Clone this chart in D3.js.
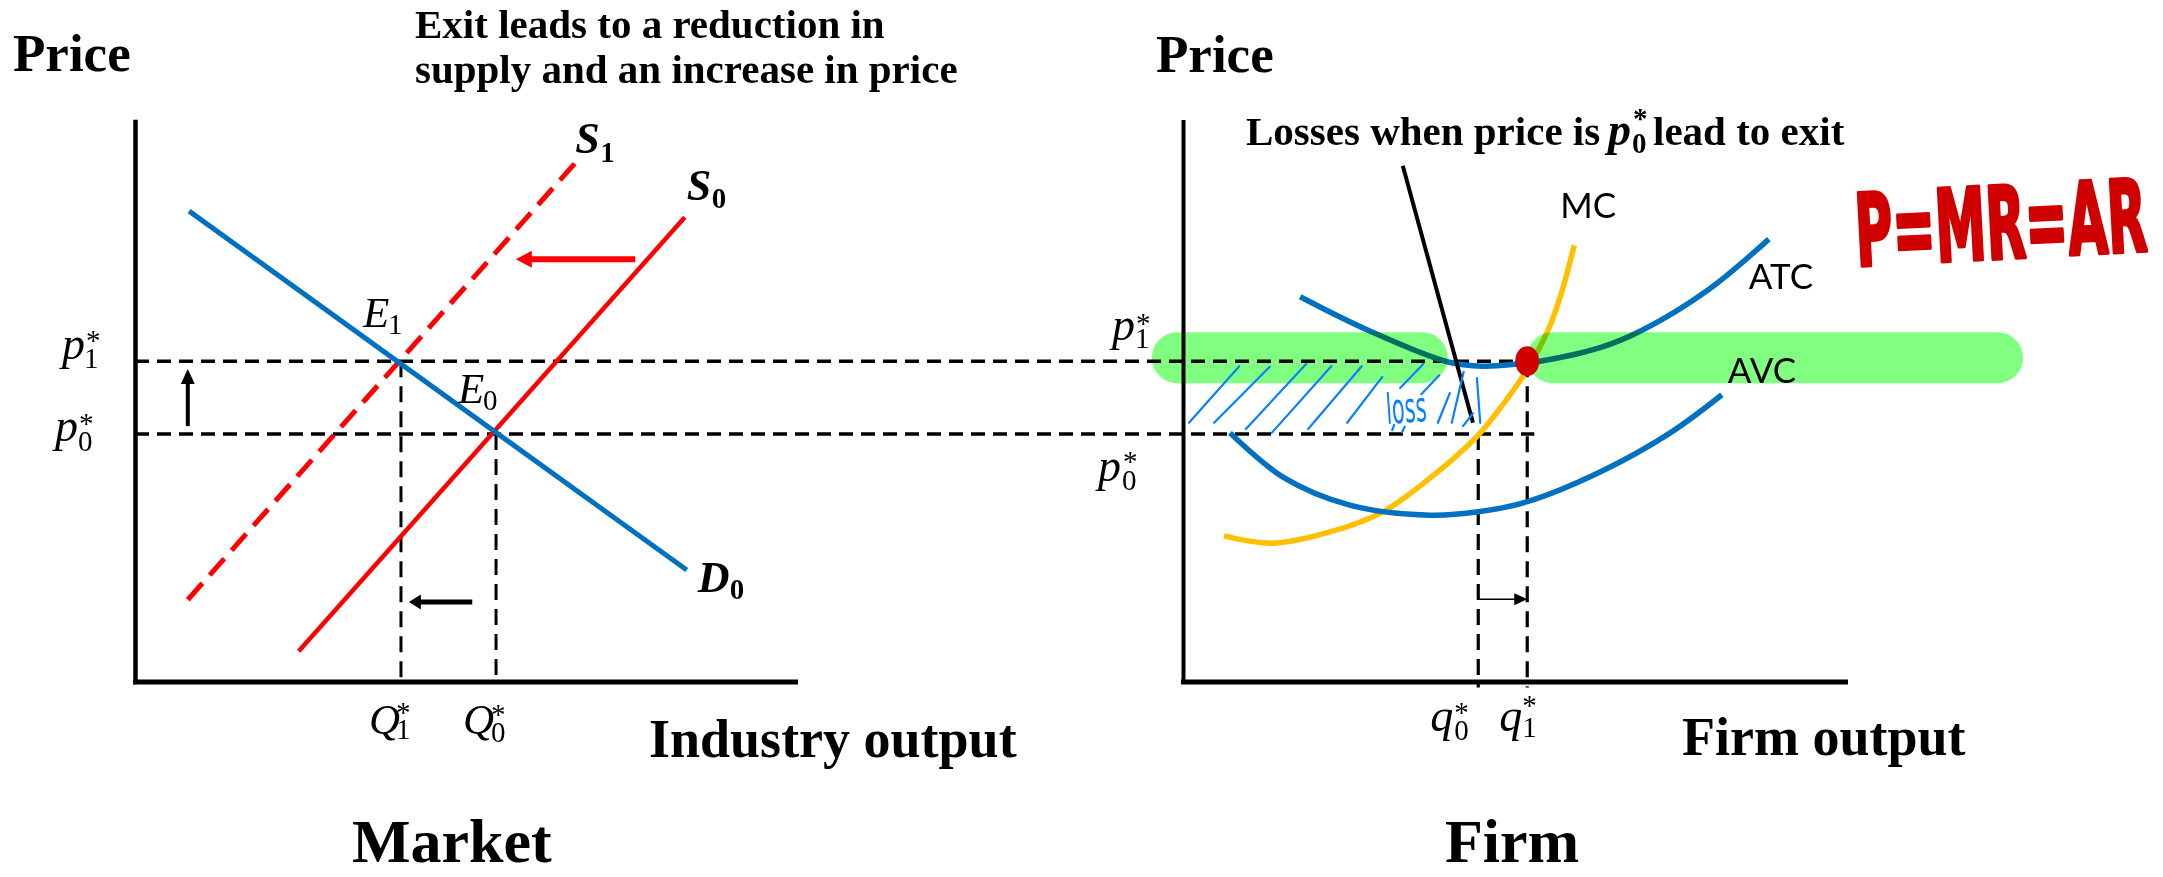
<!DOCTYPE html>
<html><head><meta charset="utf-8">
<script src="https://cdn.jsdelivr.net/npm/d3@7"></script>
<style>
html,body{margin:0;padding:0;background:#fff;overflow:hidden}
svg{display:block}
</style></head><body>
<svg id="chart" width="2163" height="877"></svg>
<script>
// ================= DATA =================
// Market panel (left) – x: industry output, y: price (0–100 units)
const demandD0      = [[8.2, 84.0], [83.6, 19.9]];
const supplyS0      = [[24.8, 5.4], [83.3, 82.9]];
const supplyS1      = [[8.0, 14.6], [66.7, 92.6]];
const priceLevels   = [44.2, 57.2];          // p0*, p1*
const priceSubs     = ["0", "1"];
const marketQty     = [40.3, 54.7];          // Q1*, Q0*
const marketQtySubs = ["1", "0"];
const supplyShift   = [[75.8, 75.4], [57.7, 75.4]];
const priceRise     = [[8.0, 45.6], [8.0, 55.8]];
const qtyFall       = [[51.1, 14.2], [41.5, 14.2]];

// Firm panel (right) – x: firm output, y: price
const mcCurve  = [[6.2,26.0],[13.6,24.7],[22.2,26.7],[30.2,30.3],[37.3,36.3],[44.6,44.0],
                  [48.6,49.9],[51.4,54.6],[53.5,58.8],[55.5,63.7],[57.3,69.9],[59.1,77.9]];
const atcCurve = [[17.7,68.7],[27.8,62.8],[39.9,57.1],[45.3,56.3],[50.6,56.7],[53.5,57.1],
                  [63.0,59.6],[69.5,62.8],[79.3,69.9],[88.5,79.0]];
const avcCurve = [[7.1,44.4],[15.1,36.5],[25.2,31.5],[37.3,29.7],[44.6,30.3],[52.0,32.1],
                  [63.0,37.4],[73.6,44.4],[81.4,51.2]];
const firmQty     = [44.6, 52.0];            // q0*, q1*
const firmQtySubs = ["0", "1"];
const firmShift   = [[44.6, 14.7], [52.0, 14.7]];
const lossPointer = [[33.2, 92.1], [43.8, 46.2]];
const highlightBands = [[-4.7, 40.0], [52.0, 126.9]];
const lossHatch = [
  [[0.9,46.2],[8.5,56.3]], [[4.7,46.2],[13.1,56.2]], [[9.5,45.1],[18.6,56.7]],
  [[13.4,44.4],[22.4,56.3]], [[18.9,45.1],[27.0,56.3]], [[24.8,46.2],[30.1,54.4]],
  [[32.8,52.4],[36.3,56.7]], [[36.0,51.3],[38.7,54.7]], [[38.5,46.2],[40.3,51.5]],
  [[40.6,46.2],[42.4,55.3]], [[42.3,45.6],[43.8,47.9]], [[44.4,54.2],[44.9,46.2]],
  [[31.6,44.9],[31.9,45.8]], [[33.1,44.5],[33.5,45.5]]
];

// ================= SCALES =================
const y  = d3.scaleLinear().domain([0, 100]).range([681.5, 121.5]);
const xM = d3.scaleLinear().domain([0, 100]).range([135, 795]);
const xF = d3.scaleLinear().domain([0, 100]).range([1183, 1845]);

const svg = d3.select("#chart");
const serif = "'Liberation Serif','Times New Roman',serif";
const sans  = "Lato,'Open Sans','Liberation Sans',sans-serif";
const BLUE = "#0070C0", RED = "#FF0000", GOLD = "#FFC000";

const lineM  = d3.line().x(d => xM(d[0])).y(d => y(d[1]));
const lineF  = d3.line().x(d => xF(d[0])).y(d => y(d[1]));
const curveF = d3.line().curve(d3.curveCatmullRom.alpha(0.5)).x(d => xF(d[0])).y(d => y(d[1]));

// ================= AXES =================
function styleAxis(g, w) {
  g.select(".domain").attr("stroke", "#000").attr("stroke-width", w).attr("stroke-linecap", "square");
  g.selectAll(".tick line").remove();
  g.selectAll(".tick text").remove();
}
svg.append("g").attr("transform", `translate(0,${y(0)})`)
  .call(d3.axisBottom(xM).tickValues(marketQty).tickSize(0).tickSizeOuter(0)).call(styleAxis, 5);
svg.append("g").attr("transform", `translate(${xM(0)},0)`)
  .call(d3.axisLeft(y).tickValues(priceLevels).tickSize(0).tickSizeOuter(0)).call(styleAxis, 4.5);
svg.append("g").attr("transform", `translate(0,${y(0)})`)
  .call(d3.axisBottom(xF).tickValues(firmQty).tickSize(0).tickSizeOuter(0)).call(styleAxis, 5);
svg.append("g").attr("transform", `translate(${xF(0)},0)`)
  .call(d3.axisLeft(y).tickValues(priceLevels).tickSize(0).tickSizeOuter(0)).call(styleAxis, 4);

// ================= DASHED GUIDES =================
const guides = svg.append("g").attr("stroke", "#000").attr("fill", "none");
priceLevels.forEach((p, i) => {
  guides.append("line")
    .attr("x1", xM(0)).attr("x2", xF(firmQty[1]) + (i === 0 ? 7 : 0))
    .attr("y1", y(p)).attr("y2", y(p))
    .attr("stroke-width", 3.5).attr("stroke-dasharray", "14,8");
});
marketQty.forEach((q, i) => {
  guides.append("line").attr("x1", xM(q)).attr("x2", xM(q))
    .attr("y1", y(priceLevels[i === 0 ? 1 : 0])).attr("y2", y(0))
    .attr("stroke-width", 3).attr("stroke-dasharray", "16,9");
});
firmQty.forEach((q, i) => {
  guides.append("line").attr("x1", xF(q)).attr("x2", xF(q))
    .attr("y1", y(priceLevels[i])).attr("y2", y(0) + 6)
    .attr("stroke-width", 3.2).attr("stroke-dasharray", "16,9");
});

// ================= MARKET CURVES =================
svg.append("path").attr("d", lineM(supplyS1)).attr("fill", "none").attr("stroke", RED)
  .attr("stroke-width", 5).attr("stroke-dasharray", "22,11");
svg.append("path").attr("d", lineM(supplyS0)).attr("fill", "none").attr("stroke", RED).attr("stroke-width", 4.5);
svg.append("path").attr("d", lineM(demandD0)).attr("fill", "none").attr("stroke", BLUE).attr("stroke-width", 5);

// ================= FIRM CURVES =================
svg.append("path").attr("d", curveF(mcCurve)).attr("fill", "none").attr("stroke", GOLD).attr("stroke-width", 5.5);
svg.append("path").attr("d", curveF(avcCurve)).attr("fill", "none").attr("stroke", BLUE).attr("stroke-width", 5.5);
svg.append("path").attr("d", curveF(atcCurve)).attr("fill", "none").attr("stroke", BLUE).attr("stroke-width", 5.5);
svg.append("path").attr("d", lineF(lossPointer)).attr("fill", "none").attr("stroke", "#000").attr("stroke-width", 4);

// highlighter bands (multiply like a marker)
svg.append("g").selectAll("rect").data(highlightBands).join("rect")
  .attr("x", d => xF(d[0])).attr("width", d => xF(d[1]) - xF(d[0]))
  .attr("y", y(priceLevels[1]) - 29).attr("height", 51).attr("rx", 25.5)
  .attr("fill", "#80FF80").style("mix-blend-mode", "multiply");

// red dot at (q1*, p1*)
svg.append("ellipse").attr("cx", xF(firmQty[1])).attr("cy", y(priceLevels[1]))
  .attr("rx", 12).attr("ry", 15).attr("fill", "#D00000");

// loss hatch
svg.append("g").selectAll("path").data(lossHatch).join("path")
  .attr("d", d => lineF(d)).attr("fill", "none").attr("stroke", "#0A80FF")
  .attr("stroke-width", 2.2).attr("stroke-linecap", "round");
svg.append("text").attr("transform", `translate(${xF(30.8)},${y(46.0)}) rotate(-4) scale(0.5,1)`)
  .attr("font-family", "'DejaVu Sans',sans-serif").attr("font-size", 42).attr("fill", "#0A80FF").text("loss");

// ================= ARROWS =================
function arrow(pts, X, color, w, hl, hw) {
  const x1 = X(pts[0][0]), y1 = y(pts[0][1]), x2 = X(pts[1][0]), y2 = y(pts[1][1]);
  const a = Math.atan2(y2 - y1, x2 - x1);
  const bx = x2 - hl * Math.cos(a), by = y2 - hl * Math.sin(a);
  const g = svg.append("g");
  g.append("line").attr("x1", x1).attr("y1", y1).attr("x2", bx + Math.cos(a)).attr("y2", by + Math.sin(a))
    .attr("stroke", color).attr("stroke-width", w);
  const px = -Math.sin(a) * hw / 2, py = Math.cos(a) * hw / 2;
  g.append("polygon").attr("points", `${x2},${y2} ${bx + px},${by + py} ${bx - px},${by - py}`).attr("fill", color);
}
arrow(supplyShift, xM, RED, 6, 16, 17);
arrow(priceRise, xM, "#000", 4, 15, 14);
arrow(qtyFall, xM, "#000", 5, 12, 15);
arrow(firmShift, xF, "#000", 1.6, 13, 12);

// ================= MATH LABELS (one text element each) =================
function mathLabel(x, yb, o) {
  const w = o.bold ? "bold" : "normal";
  const t = svg.append("text").attr("font-family", serif).attr("font-weight", w).attr("fill", "#000");
  t.append("tspan").attr("x", x).attr("y", yb).attr("font-size", o.fs || 46)
    .attr("font-style", "italic").text(o.base);
  if (o.sub) t.append("tspan").attr("x", x + o.sub[0]).attr("y", yb + o.sub[1])
    .attr("font-size", o.sfs || 29).text(o.subText);
  if (o.sup) t.append("tspan").attr("x", x + o.sup[0]).attr("y", yb + o.sup[1])
    .attr("font-size", o.sfs || 29).text("*");
  return t;
}
// price labels, market panel
const pLeftOff  = [[55, 7, [23, 10], [24, -8]], [62, -2, [22, 9], [24, -9]]];
priceLevels.forEach((p, i) => {
  const o = pLeftOff[i];
  mathLabel(o[0], y(p) + o[1], {base: "p", subText: priceSubs[i], sub: o[2], sup: o[3]});
});
// price labels, firm panel
const pRightOff = [[-85, 47, [24, 9], [25, -10]], [-71, -21, [23, 8], [24, -7]]];
priceLevels.forEach((p, i) => {
  const o = pRightOff[i];
  mathLabel(xF(0) + o[0], y(p) + o[1], {base: "p", subText: priceSubs[i], sub: o[2], sup: o[3]});
});
// quantity labels
const qMOff = [[-32, [27, 5], [27, -12]], [-33, [28, 8], [28, -10]]];
marketQty.forEach((q, i) => {
  const o = qMOff[i];
  mathLabel(xM(q) + o[0], 733.5, {base: "Q", subText: marketQtySubs[i], sub: o[1], sup: o[2], fs: 43});
});
const qFOff = [[-48, [24, 9], [24, -9]], [-28, [23, 6], [23, -16]]];
firmQty.forEach((q, i) => {
  const o = qFOff[i];
  mathLabel(xF(q) + o[0], 731, {base: "q", subText: firmQtySubs[i], sub: o[1], sup: o[2]});
});
// curve labels
mathLabel(xM(supplyS1[1][0]), y(supplyS1[1][1]) - 10, {base: "S", subText: "1", sub: [25, 9], bold: true, fs: 44});
mathLabel(xM(supplyS0[1][0]) + 2, y(supplyS0[1][1]) - 17, {base: "S", subText: "0", sub: [25, 8], bold: true, fs: 44});
mathLabel(xM(demandD0[1][0]) + 11, y(demandD0[1][1]) + 22, {base: "D", subText: "0", sub: [32, 7], bold: true, fs: 44});
mathLabel(xM(marketQty[0]) - 38, y(priceLevels[1]) - 34, {base: "E", subText: "1", sub: [25, 7], fs: 43});
mathLabel(xM(marketQty[1]) - 38, y(priceLevels[0]) - 31, {base: "E", subText: "0", sub: [25, 7], fs: 43});

const lastMC = mcCurve[mcCurve.length - 1], lastATC = atcCurve[atcCurve.length - 1], lastAVC = avcCurve[avcCurve.length - 1];
svg.append("text").attr("x", xF(lastMC[0]) - 14).attr("y", y(lastMC[1]) - 27)
  .attr("font-family", sans).attr("font-size", 35).text("MC");
svg.append("text").attr("x", xF(lastATC[0]) - 20).attr("y", y(lastATC[1]) + 50)
  .attr("font-family", sans).attr("font-size", 35).text("ATC");
svg.append("text").attr("x", xF(lastAVC[0]) + 6).attr("y", y(lastAVC[1]) - 12)
  .attr("font-family", sans).attr("font-size", 35).text("AVC");

// ================= TITLES / AXIS NAMES =================
const T = (x, yb, fs, txt) => svg.append("text").attr("x", x).attr("y", yb)
  .attr("font-family", serif).attr("font-weight", "bold").attr("font-size", fs).attr("fill", "#000").text(txt);
T(13, 71, 53, "Price");
T(1156, 72, 53, "Price");
T(649, 757, 54, "Industry output");
T(1682, 755, 54, "Firm output");
T(352, 862, 62, "Market");
T(1445, 862, 62, "Firm");
T(415, 38, 41, "Exit leads to a reduction in");
T(415, 83, 41, "supply and an increase in price");

// "Losses when price is p0* lead to exit" – one text element
const lt = svg.append("text").attr("font-family", serif).attr("font-weight", "bold").attr("fill", "#000");
lt.append("tspan").attr("x", 1246).attr("y", 145).attr("font-size", 41).text("Losses when price is ");
lt.append("tspan").attr("x", 1608).attr("y", 145).attr("font-size", 46).attr("font-style", "italic").text("p");
lt.append("tspan").attr("x", 1632).attr("y", 153).attr("font-size", 29).text("0");
lt.append("tspan").attr("x", 1633).attr("y", 128).attr("font-size", 29).text("*");
lt.append("tspan").attr("x", 1653).attr("y", 145).attr("font-size", 41).text("lead to exit");

// handwritten note
svg.append("text").attr("transform", "translate(1857,266) rotate(-3) scale(0.51,1)")
  .attr("font-family", "'DejaVu Sans',sans-serif").attr("font-weight", "bold").attr("font-size", 100)
  .attr("fill", "#D00000").attr("stroke", "#D00000").attr("stroke-width", 4).attr("stroke-linejoin", "round")
  .text("P=MR=AR");
</script>
</body></html>
